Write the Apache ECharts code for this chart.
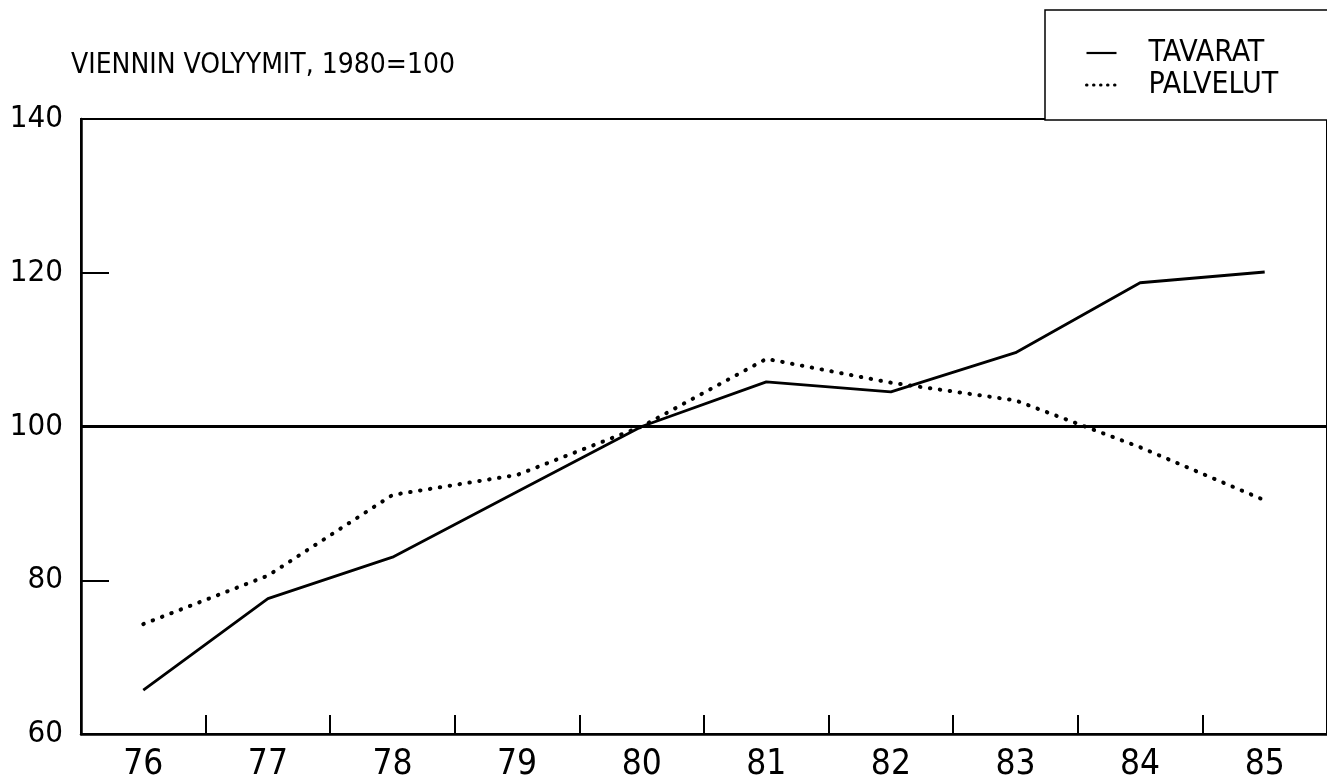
<!DOCTYPE html>
<html>
<head>
<meta charset="utf-8">
<script src="https://cdn.jsdelivr.net/npm/echarts@6/dist/echarts.min.js"></script>
<style>
html,body{margin:0;padding:0;background:#fff;}
#chart{width:1327px;height:782px;}
</style>
</head>
<body>
<div id="chart"></div>
<script>
const titleText = 'VIENNIN VOLYYMIT, 1980=100';
const years = ['76','77','78','79','80','81','82','83','84','85'];
const tavarat = [65.7, 77.6, 83.0, 91.5, 100, 105.8, 104.5, 109.6, 118.7, 120.1];
const palvelut = [74.3, 80.6, 91.1, 93.7, 100, 108.8, 105.7, 103.4, 97.3, 90.4];
const yTicks = [60, 80, 100, 120, 140];
const baseLine = 100;

const FONT = "'Liberation Sans Narrow', 'DejaVu Sans Condensed', sans-serif";
const chart = echarts.init(document.getElementById('chart'), null, {renderer: 'canvas'});

const dotted = {color: '#000', width: 4, type: [0.5, 9.5], cap: 'round'};

chart.setOption({
  backgroundColor: '#fff',
  animation: false,
  title: {
    text: titleText,
    left: 66,
    top: 47,
    textStyle: {fontFamily: FONT, fontSize: 28, fontWeight: 'normal', color: '#000'}
  },
  graphic: [{
    type: 'rect',
    shape: {x: 1045, y: 10, width: 300, height: 110},
    style: {fill: '#fff', stroke: '#000', lineWidth: 1.5},
    z: 0
  }],
  legend: {
    orient: 'vertical',
    left: 1080,
    top: 33,
    itemWidth: 30,
    itemHeight: 14,
    itemGap: 2,
    textStyle: {fontFamily: FONT, fontSize: 30, color: '#000', padding: [0, 0, 0, 27]},
    itemStyle: {opacity: 0},
    data: [
      {name: 'TAVARAT', itemStyle: {opacity: 0}, lineStyle: {color: '#000', width: 2.2, type: 'solid'}},
      {name: 'PALVELUT', itemStyle: {opacity: 0}, lineStyle: {color: '#000', width: 3, type: [0.5, 6.5], cap: 'round'}}
    ],
    z: 5
  },
  grid: {
    left: 81, right: 0, top: 119, bottom: 48,
    outerBoundsMode: 'none',
    containLabel: false,
    show: true, borderColor: '#000', borderWidth: 2, backgroundColor: 'transparent'
  },
  xAxis: {
    type: 'category',
    data: years,
    boundaryGap: true,
    axisLine: {lineStyle: {color: '#000', width: 2.5}},
    axisTick: {show: true, inside: true, length: 19, interval: 0, lineStyle: {color: '#000', width: 2}},
    axisLabel: {fontFamily: FONT, fontSize: 35, color: '#000', margin: 13, interval: 0},
    splitLine: {show: false}
  },
  yAxis: {
    type: 'value',
    min: yTicks[0],
    max: yTicks[yTicks.length - 1],
    interval: 20,
    axisLine: {show: true, lineStyle: {color: '#000', width: 2.5}},
    axisTick: {show: true, inside: true, length: 28, lineStyle: {color: '#000', width: 2}},
    axisLabel: {fontFamily: FONT, fontSize: 31, color: '#000', margin: 18},
    splitLine: {show: false}
  },
  series: [
    {
      name: 'TAVARAT',
      type: 'line',
      data: tavarat,
      symbol: 'none',
      lineStyle: {color: '#000', width: 2.8, type: 'solid'},
      itemStyle: {color: '#000'},
      markLine: {
        silent: true,
        symbol: ['none', 'none'],
        label: {show: false},
        lineStyle: {color: '#000', width: 3, type: 'solid'},
        data: [{yAxis: baseLine}]
      }
    },
    {
      name: 'PALVELUT',
      type: 'line',
      data: palvelut,
      symbol: 'none',
      lineStyle: dotted,
      itemStyle: {color: '#000'}
    }
  ]
});
</script>
</body>
</html>
